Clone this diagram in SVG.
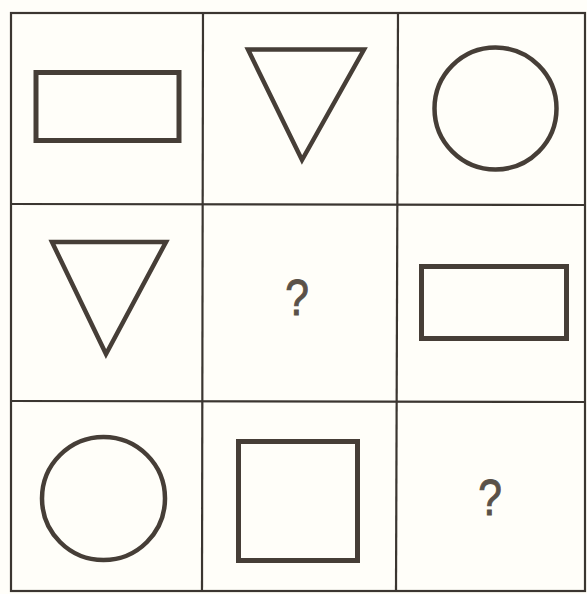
<svg xmlns="http://www.w3.org/2000/svg" width="587" height="594" viewBox="0 0 587 594">
<style>
.grid{stroke:#3b3631;stroke-width:2.2;fill:none}
.shape{stroke:#463e37;fill:none;stroke-linejoin:miter}
.q{font-family:"Liberation Sans",Arial,sans-serif;font-size:50px;fill:#5a5148;stroke:#5a5148;stroke-width:1;text-anchor:middle}
</style>
<rect width="587" height="594" fill="#fffef9"/>
<g id="grid">
<rect class="grid" x="11" y="13" width="574" height="578"/>
<line class="grid" x1="203" y1="13" x2="202" y2="591"/>
<line class="grid" x1="398" y1="13" x2="396" y2="591"/>
<line class="grid" x1="11" y1="204" x2="585" y2="205"/>
<line class="grid" x1="11" y1="401" x2="585" y2="402"/>
</g>
<g id="r1c1"><rect class="shape" stroke-width="5" x="36" y="72.5" width="143" height="68"/></g>
<g id="r1c2"><polygon class="shape" stroke-width="4.5" points="248,49.5 364,49.5 302,160"/></g>
<g id="r1c3"><circle class="shape" stroke-width="4.5" cx="495.5" cy="108.5" r="61"/></g>
<g id="r2c1"><polygon class="shape" stroke-width="4.5" points="52,242 166,242 106,354"/></g>
<g id="r2c2"><text class="q" x="297" y="315" transform="translate(297 0) scale(0.85 1) translate(-297 0)">?</text></g>
<g id="r2c3"><rect class="shape" stroke-width="5" x="421.5" y="266.5" width="145" height="72"/></g>
<g id="r3c1"><circle class="shape" stroke-width="4.5" cx="103.5" cy="498.5" r="61.5"/></g>
<g id="r3c2"><rect class="shape" stroke-width="5" x="238.5" y="441.5" width="119" height="119"/></g>
<g id="r3c3"><text class="q" x="490" y="515" transform="translate(490 0) scale(0.85 1) translate(-490 0)">?</text></g>
</svg>
